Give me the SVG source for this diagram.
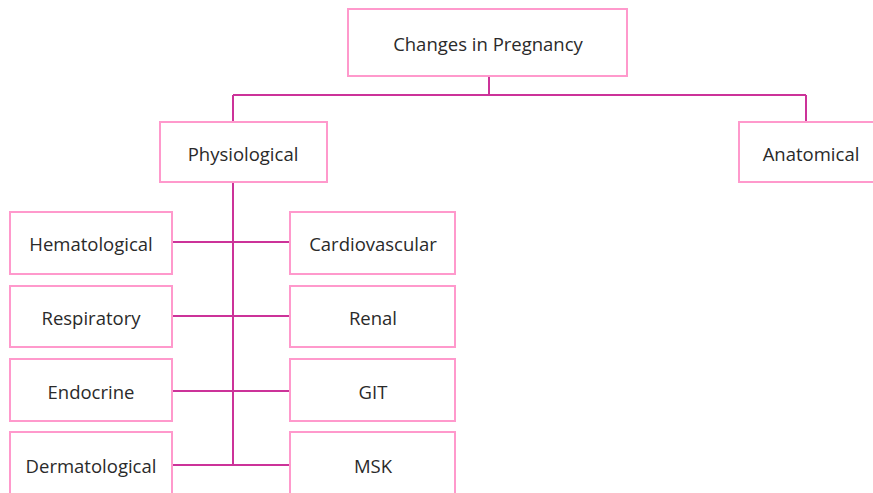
<svg xmlns="http://www.w3.org/2000/svg" width="873" height="493" viewBox="0 0 873 493">
<style>
.box{fill:#fff;stroke:#ff99cc;stroke-width:2}
.lbl{font-family:"Open Sans","Liberation Sans",sans-serif;font-size:18.5px;fill:#2a2a2a;text-anchor:middle;dominant-baseline:central}
.con{stroke:#cc3399;stroke-width:2;fill:none}
</style>
<rect width="873" height="493" fill="#fff"/>
<g id="connectors">
<path class="con" d="M489 76V95M233 95H806M233 95V122M806 95V122M233 182V465M172 242H290M172 316H290M172 391H290M172 465H290"/>
</g>
<g id="n-changes"><rect class="box" x="348" y="9" width="279" height="67"/><text class="lbl" x="488" y="43">Changes in Pregnancy</text></g>
<g id="n-physiological"><rect class="box" x="160" y="122" width="167" height="60"/><text class="lbl" x="243" y="153">Physiological</text></g>
<g id="n-anatomical"><rect class="box" x="739" y="122" width="140" height="60"/><text class="lbl" x="811" y="153">Anatomical</text></g>
<g id="n-hematological"><rect class="box" x="10" y="212" width="162" height="62"/><text class="lbl" x="91" y="243">Hematological</text></g>
<g id="n-cardiovascular"><rect class="box" x="290" y="212" width="165" height="62"/><text class="lbl" x="373" y="243">Cardiovascular</text></g>
<g id="n-respiratory"><rect class="box" x="10" y="286" width="162" height="61"/><text class="lbl" x="91" y="317">Respiratory</text></g>
<g id="n-renal"><rect class="box" x="290" y="286" width="165" height="61"/><text class="lbl" x="373" y="317">Renal</text></g>
<g id="n-endocrine"><rect class="box" x="10" y="359" width="162" height="62"/><text class="lbl" x="91" y="391">Endocrine</text></g>
<g id="n-git"><rect class="box" x="290" y="359" width="165" height="62"/><text class="lbl" x="373" y="391">GIT</text></g>
<g id="n-dermatological"><rect class="box" x="10" y="432" width="162" height="70"/><text class="lbl" x="91" y="465">Dermatological</text></g>
<g id="n-msk"><rect class="box" x="290" y="432" width="165" height="70"/><text class="lbl" x="373" y="465">MSK</text></g>
</svg>
